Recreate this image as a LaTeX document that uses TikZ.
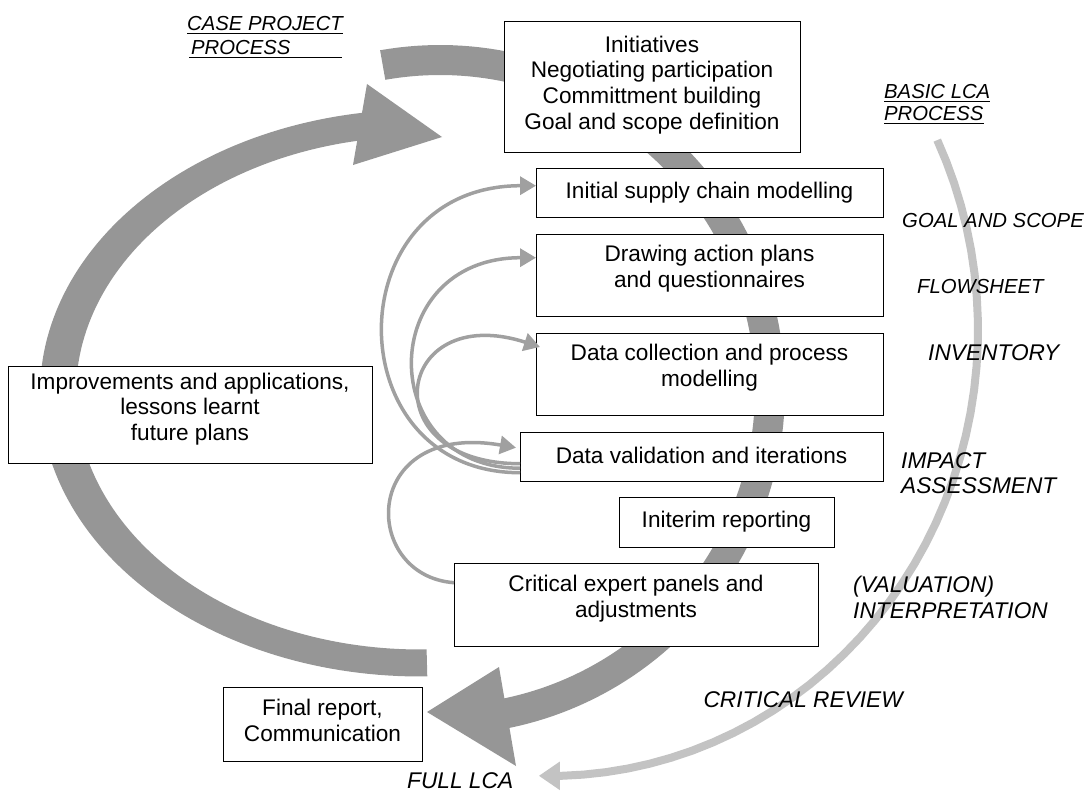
\documentclass[tikz,border=0pt]{standalone}
\usepackage{fontspec}
\setmainfont{Liberation Sans}
\usetikzlibrary{arrows.meta}
\definecolor{bandgray}{RGB}{150,150,150}
\definecolor{loopgray}{RGB}{160,160,160}
\definecolor{lcagray}{RGB}{195,195,195}

\begin{document}
\begin{tikzpicture}[x=1pt,y=-1pt,
  stepbox/.style={draw=black, line width=1.4pt, fill=white, inner sep=0pt, anchor=north west},
  boxtext/.style={font=\fontsize{22.6}{25.8}\selectfont, align=center, inner sep=0pt},
  phase/.style={font=\fontsize{20.3}{24}\selectfont\itshape, align=left, inner sep=0pt},
  bigphase/.style={font=\fontsize{22.7}{25.5}\selectfont\itshape, align=left, inner sep=0pt},
  loop/.style={draw=loopgray, line width=3.5pt, -{Triangle[length=16pt,width=18pt]}},
  uline/.style={line width=1.6pt},
]
\useasboundingbox (0,0) rectangle (1088,792);

% basic LCA process: light arc ending at the full LCA
\draw[lcagray, line width=8pt, -{Triangle[length=21pt,width=27pt]}]
  plot[domain=-25.2:91.5, samples=40] ({550+428*cos(\x)},{330+446*sin(\x)});

% case project process: feedback band on the left
\fill[bandgray]
  plot[domain=88.9:263, samples=120] ({420+380*cos(\x)},{393+283.5*sin(\x)})
  -- plot[domain=263:88.9, samples=120] ({420+344*cos(\x)},{393+256.5*sin(\x)})
  -- cycle;
\fill[bandgray] (367,84) -- (442,137) -- (353,165) -- cycle;

% case project process: main band down the right
\fill[bandgray]
  plot[domain=-100:80, samples=120] ({440+345*cos(\x)},{390+345*sin(\x)})
  -- plot[domain=80:-100, samples=120] ({440+315*cos(\x)},{390+315*sin(\x)})
  -- cycle;
\fill[bandgray] (499,667) -- (427,712) -- (516,766) -- cycle;

% process steps
\node[stepbox, minimum width=296pt, minimum height=131pt] (init) at (504,21) {};
\node[boxtext] (init-t) at (652,85) {Initiatives\\Negotiating participation\\Committment building\\Goal and scope definition};

\node[stepbox, minimum width=347pt, minimum height=49pt] (isc) at (536,168) {};
\node[boxtext] (isc-t) at (709.5,193) {Initial supply chain modelling};

\node[stepbox, minimum width=347pt, minimum height=82pt] (dap) at (536,234) {};
\node[boxtext] (dap-t) at (709.5,269) {Drawing action plans\\and questionnaires};

\node[stepbox, minimum width=347pt, minimum height=82pt] (dc) at (536,333) {};
\node[boxtext] (dc-t) at (709.5,368) {Data collection and process\\modelling};

\node[stepbox, minimum width=363pt, minimum height=49pt] (val) at (520,432) {};
\node[boxtext] (val-t) at (701.5,455) {Data validation and iterations};

\node[stepbox, minimum width=215pt, minimum height=50pt] (ir) at (619,497) {};
\node[boxtext] (ir-t) at (726.5,522) {Initerim reporting};

\node[stepbox, minimum width=364pt, minimum height=83pt] (cep) at (454,563) {};
\node[boxtext] (cep-t) at (636,599) {Critical expert panels and\\adjustments};

\node[stepbox, minimum width=364pt, minimum height=97pt] (imp) at (8,366) {};
\node[boxtext] (imp-t) at (190,409) {Improvements and applications,\\lessons learnt\\future plans};

\node[stepbox, minimum width=199pt, minimum height=74pt] (fin) at (223,687) {};
\node[boxtext] (fin-t) at (322.5,720.5) {Final report,\\Communication};

% iteration loops
\draw[loop] ([yshift=-15.5pt]val.west) .. controls +(-185,0) and +(-201,0) .. ([yshift=7.5pt]isc.west);
\draw[loop] ([yshift=-11pt]val.west) .. controls +(-145,0) and +(-161,0) .. ([yshift=18pt]dap.west);
\draw[loop] ([yshift=-6.5pt]val.west) .. controls +(-150,0) and +(-145,-47) .. ([xshift=4pt,yshift=-14pt]dc.north west);
\draw[loop] ([yshift=22.5pt]cep.west) .. controls +(-94,-7) and +(-156,-27) .. ([xshift=-4pt,yshift=9.5pt]val.west);

% process titles
\node[phase, anchor=base west] (cp1) at (187,31) {CASE PROJECT};
\node[phase, anchor=base west] (cp2) at (191,55) {PROCESS};
\draw[uline] ([yshift=-2.5pt]cp1.base west) -- ([yshift=-2.5pt]cp1.base east);
\draw[uline] ([xshift=-2pt,yshift=-2.5pt]cp2.base west) -- ++(153,0);

\node[phase, anchor=base west] (bl1) at (884,99) {BASIC LCA};
\node[phase, anchor=base west] (bl2) at (884,121) {PROCESS};
\draw[uline] ([yshift=-2.5pt]bl1.base west) -- ([yshift=-2.5pt]bl1.base east);
\draw[uline] ([yshift=-2.5pt]bl2.base west) -- ([yshift=-2.5pt]bl2.base east);

% LCA phases
\node[phase, anchor=west] (goal) at (902,221) {GOAL AND SCOPE};
\node[phase, anchor=west] (flow) at (917,287) {FLOWSHEET};
\node[bigphase, anchor=west] (inv) at (928,353) {INVENTORY};
\node[bigphase, anchor=west] (impact) at (901,473) {IMPACT\\ASSESSMENT};
\node[bigphase, anchor=west] (interp) at (853,597.5) {(VALUATION)\\INTERPRETATION};
\node[bigphase, anchor=east] (crit) at (903,700) {CRITICAL REVIEW};
\node[bigphase, anchor=west] (full) at (407,781) {FULL LCA};
\end{tikzpicture}
\end{document}
